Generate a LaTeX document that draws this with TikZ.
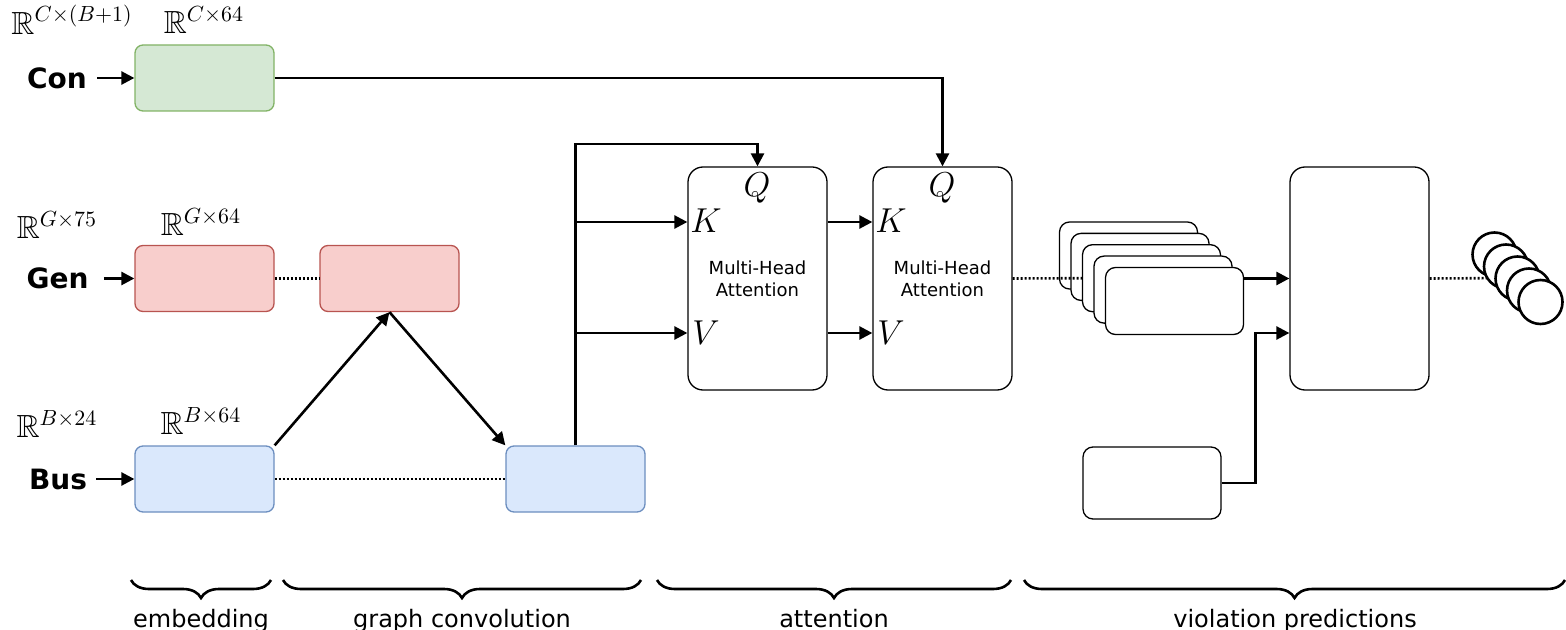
\documentclass[tikz,border=0pt]{standalone}
\usepackage{amsmath,amssymb}
\usepackage{fontspec}
\setmainfont{DejaVu Sans}
\usetikzlibrary{arrows.meta,decorations.pathreplacing,positioning}

\definecolor{confill}{HTML}{D5E8D4}
\definecolor{condraw}{HTML}{82B366}
\definecolor{genfill}{HTML}{F8CECC}
\definecolor{gendraw}{HTML}{B85450}
\definecolor{busfill}{HTML}{DAE8FC}
\definecolor{busdraw}{HTML}{6C8EBF}

\begin{document}
\begin{tikzpicture}[x=0.5pt,y=-0.5pt,
  box/.style={draw,rounded corners=4pt,line width=0.65pt,minimum width=69.5pt,minimum height=33pt,inner sep=0pt},
  tall/.style={draw,fill=white,rounded corners=7.5pt,line width=0.65pt,minimum width=69.5pt,minimum height=111.5pt,inner sep=0pt,align=center,font=\fontsize{9}{11}\selectfont},
  card/.style={draw,fill=white,rounded corners=5pt,line width=0.65pt,minimum width=69pt,minimum height=33.5pt,inner sep=0pt},
  ball/.style={draw,fill=white,circle,line width=1.3pt,minimum size=22pt,inner sep=0pt},
  lbl/.style={inner sep=0pt,font=\fontsize{14}{17}\selectfont\bfseries},
  dim/.style={inner sep=0pt,font=\fontsize{16}{19}\selectfont},
  port/.style={inner sep=0pt,font=\fontsize{16}{19}\selectfont},
  stage/.style={inner sep=0pt,anchor=base,font=\fontsize{12}{14}\selectfont},
  flow/.style={line width=1.3pt,-{Triangle[length=6.5pt,width=6.5pt]}},
  link/.style={line width=1.3pt,dash pattern=on 1pt off 1pt},
  curly/.style={line width=1.3pt,decorate,decoration={brace,mirror,amplitude=9pt}}]
\useasboundingbox (0,0) rectangle (1566,630);

\node[lbl] (conlbl) at (57,78) {Con};
\node[lbl] (genlbl) at (57.5,278.5) {Gen};
\node[lbl] (buslbl) at (58,479) {Bus};

\node[dim] (conin) at (72,20) {$\mathbb{R}^{C\times(B+1)}$};
\node[dim] (conout) at (204,20) {$\mathbb{R}^{C\times 64}$};
\node[dim] (genin) at (57,225) {$\mathbb{R}^{G\times 75}$};
\node[dim] (genout) at (201,222) {$\mathbb{R}^{G\times 64}$};
\node[dim] (busin) at (57,424) {$\mathbb{R}^{B\times 24}$};
\node[dim] (busout) at (201,421) {$\mathbb{R}^{B\times 64}$};

\node[box,fill=confill,draw=condraw] (con) at (204.5,78) {};
\node[box,fill=genfill,draw=gendraw] (gen) at (204.5,278.5) {};
\node[box,fill=genfill,draw=gendraw] (genconv) at (389.5,278.5) {};
\node[box,fill=busfill,draw=busdraw] (bus) at (204.5,479) {};
\node[box,fill=busfill,draw=busdraw] (busconv) at (575.5,479) {};

\node[tall] (mhaone) at (757.5,278.5) {Multi-Head\\Attention};
\node[tall] (mhatwo) at (942.5,278.5) {Multi-Head\\Attention};
\node[port] (qone) at (757,188) {$Q$};
\node[port] (kone) at (706,221) {$K$};
\node[port] (vone) at (706,333) {$V$};
\node[port] (qtwo) at (942,188) {$Q$};
\node[port] (ktwo) at (891,221) {$K$};
\node[port] (vtwo) at (891,333) {$V$};

\node[card] (s1) at (1128.5,255.5) {};
\node[card] (s2) at (1140,266.9) {};
\node[card] (s3) at (1151.5,278.2) {};
\node[card] (s4) at (1163,289.6) {};
\node[card] (s5) at (1174.5,301) {};
\node[card,minimum height=36pt] (extra) at (1152,483) {};
\node[tall] (out) at (1359.5,278.5) {};

\coordinate (qtop) at (575.5,144);
\coordinate (kin) at (575.5,222);
\coordinate (vin) at (575.5,333);

\draw[flow] ([xshift=5pt]conlbl.east) -- (con.west);
\draw[flow] ([xshift=7.5pt]genlbl.east) -- (gen.west);
\draw[flow] ([xshift=4.5pt]buslbl.east) -- (bus.west);

\draw[flow] (con.east) -| (mhatwo.north);
\draw[link] (gen.east) -- (genconv.west);
\draw[link] (bus.east) -- (busconv.west);
\draw[flow] (bus.north east) -- (genconv.south);
\draw[flow] (genconv.south) -- (busconv.north west);

\draw[flow] (busconv.north) -- (qtop) -| (mhaone.north);
\draw[flow] (kin) -- (kin -| mhaone.west);
\draw[flow] (vin) -- (vin -| mhaone.west);
\draw[flow] (kin -| mhaone.east) -- (kin -| mhatwo.west);
\draw[flow] (vin -| mhaone.east) -- (vin -| mhatwo.west);

\draw[link] (mhatwo.east) -- (s3.west);
\draw[flow] (s5.east |- out.west) -- (out.west);
\draw[flow] (extra.east) -- ++(34,0) |- (vin -| out.west);

\draw[link] (out.east) -- (1517,278);
\node[ball] (c1) at (1494.5,254.5) {};
\node[ball] (c2) at (1506,266.5) {};
\node[ball] (c3) at (1517.5,278.5) {};
\node[ball] (c4) at (1529,290.5) {};
\node[ball] (c5) at (1540.5,302) {};

\draw[curly] (131,580) -- (271,580);
\draw[curly] (283,580) -- (641,580);
\draw[curly] (657,580) -- (1011,580);
\draw[curly] (1024,580) -- (1565,580);
\node[stage] (embed) at (201,627) {embedding};
\node[stage] (gconv) at (462,627) {graph convolution};
\node[stage] (attn) at (834,627) {attention};
\node[stage] (viol) at (1295,627) {violation predictions};
\end{tikzpicture}
\end{document}
